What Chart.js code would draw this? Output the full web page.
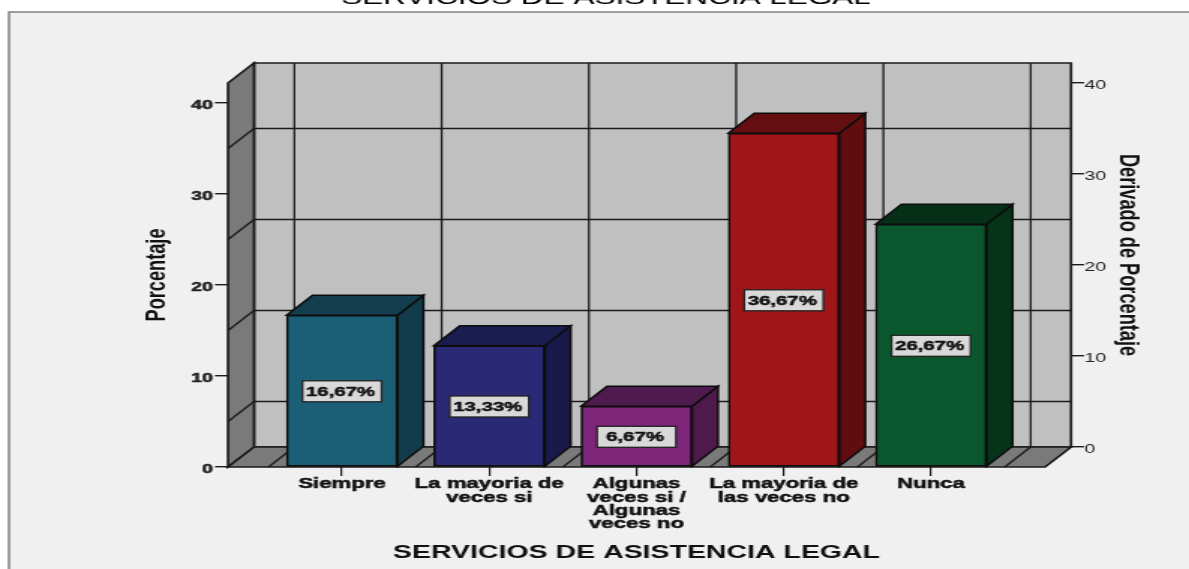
<!DOCTYPE html>
<html lang="es">
<head>
    <meta charset="UTF-8">
    <title>Servicios de asistencia legal</title>
    <script src="https://cdn.jsdelivr.net/npm/chart.js"></script>
    <style>
        html, body {
            margin: 0;
            background: #fff;
            overflow: hidden;
        }
        /* the original is a picture stretched sideways, so the canvas is too */
        #chart {
            display: block;
            margin-top: -12px;
            transform-origin: 0 0;
            transform: scaleX(1.4994);
        }
    </style>
</head>
<body>
    <canvas id="chart" width="793" height="581"></canvas>

    <script>
        const categories = [
            ['Siempre'],
            ['La mayoria de', 'veces si'],
            ['Algunas', 'veces si /', 'Algunas', 'veces no'],
            ['La mayoria de', 'las veces no'],
            ['Nunca']
        ];
        const porcentaje = [16.67, 13.33, 6.67, 36.67, 26.67];
        const barColors = ['#1b5f77', '#292975', '#7d2578', '#a01518', '#0b572d'];
        const sideColors = ['#123c4b', '#191a4b', '#4e1a4c', '#610d0f', '#063419'];
        const topColors = ['#123e4d', '#1b1c50', '#4f1a4d', '#640e10', '#062f18'];
        const axisTicks = [0, 10, 20, 30, 40];
        const wallLines = [5, 15, 25, 35];

        const K = 1189 / 793;
        const DEPTH_X = 26 / K;
        const LINE = '#1a1a1a';
        const FONT = '"Liberation Sans", Arial, sans-serif';

        function poly(ctx, pts, fill, stroke, width) {
            ctx.beginPath();
            pts.forEach((p, i) => i ? ctx.lineTo(p[0], p[1]) : ctx.moveTo(p[0], p[1]));
            ctx.closePath();
            if (fill) {
                ctx.fillStyle = fill;
                ctx.fill();
            }
            if (stroke) {
                ctx.strokeStyle = stroke;
                ctx.lineWidth = width;
                ctx.stroke();
            }
        }

        function line(ctx, x1, y1, x2, y2) {
            ctx.beginPath();
            ctx.moveTo(x1, y1);
            ctx.lineTo(x2, y2);
            ctx.stroke();
        }

        // 3D box behind the bars: panel, back wall, left wall, floor
        const walls = {
            id: 'walls',
            afterLayout(chart) {
                // front plane and back plane are centred differently, titles follow them
                chart.scales.y.top += 20;
                chart.scales.y1.bottom -= 20;
                chart.scales.x.right -= DEPTH_X;
                chart.titleBlock.left += 23 / K;
            },
            beforeDraw(chart) {
                const ctx = chart.ctx;
                const { x, y, y1 } = chart.scales;
                const area = chart.chartArea;
                const backLeft = area.left + DEPTH_X;
                const frontRight = area.right - DEPTH_X;
                const backFloor = y1.getPixelForValue(0);
                const frontFloor = y.getPixelForValue(0);
                const frontTop = area.top + (frontFloor - backFloor);

                ctx.save();
                ctx.fillStyle = '#fff';
                ctx.fillRect(0, 0, chart.width, chart.height);
                poly(ctx, [[9 / K, 24], [chart.width + 5, 24], [chart.width + 5, chart.height + 5], [9 / K, chart.height + 5]],
                    '#f0f0f0', '#808080', 1.5);

                poly(ctx, [[backLeft, area.top], [area.right, area.top], [area.right, backFloor], [backLeft, backFloor]],
                    '#c0c0c0', LINE, 1.7);
                poly(ctx, [[area.left, frontFloor], [backLeft, backFloor], [backLeft, area.top], [area.left, frontTop]],
                    '#7a7a7a', LINE, 1.7);
                poly(ctx, [[area.left, frontFloor], [frontRight, frontFloor], [area.right, backFloor], [backLeft, backFloor]],
                    '#7a7a7a', LINE, 1.7);

                ctx.strokeStyle = LINE;
                ctx.lineWidth = 1.3;
                wallLines.forEach(v => {
                    line(ctx, area.right, y1.getPixelForValue(v), backLeft, y1.getPixelForValue(v));
                    line(ctx, backLeft, y1.getPixelForValue(v), area.left, y.getPixelForValue(v));
                });
                for (let i = 0; i <= categories.length; i++) {
                    const fx = x.getPixelForValue(i - 0.5);
                    line(ctx, fx + DEPTH_X, area.top, fx + DEPTH_X, backFloor);
                    line(ctx, fx + DEPTH_X, backFloor, fx, frontFloor);
                }
                ctx.restore();
            },
            // side and top of every bar, taken from the bar element itself
            beforeDatasetsDraw(chart) {
                const ctx = chart.ctx;
                const { y, y1 } = chart.scales;
                const dy = y.getPixelForValue(0) - y1.getPixelForValue(0);
                ctx.save();
                chart.getDatasetMeta(0).data.forEach((bar, i) => {
                    const l = bar.x - bar.width / 2;
                    const r = bar.x + bar.width / 2;
                    poly(ctx, [[r, bar.y], [r + DEPTH_X, bar.y - dy], [r + DEPTH_X, bar.base - dy], [r, bar.base]],
                        sideColors[i], '#0d0d0d', 1.5);
                    poly(ctx, [[l, bar.y], [l + DEPTH_X, bar.y - dy], [r + DEPTH_X, bar.y - dy], [r, bar.y]],
                        topColors[i], '#0d0d0d', 1.5);
                });
                ctx.restore();
            },
            // boxed value labels in the middle of the front faces
            afterDatasetsDraw(chart) {
                const ctx = chart.ctx;
                ctx.save();
                chart.getDatasetMeta(0).data.forEach((bar, i) => {
                    const cy = (bar.y + bar.base) / 2 + 0.5;
                    const text = porcentaje[i].toFixed(2).replace('.', ',') + '%';
                    const w = 79 / K;
                    const h = 21;
                    ctx.fillStyle = '#d9d9d9';
                    ctx.strokeStyle = '#222';
                    ctx.lineWidth = 1.3;
                    ctx.fillRect(bar.x - w / 2, cy - h / 2, w, h);
                    ctx.strokeRect(bar.x - w / 2, cy - h / 2, w, h);
                    ctx.fillStyle = '#111';
                    ctx.strokeStyle = '#111';
                    ctx.lineWidth = 0.5;
                    ctx.font = 'bold 13.6px ' + FONT;
                    ctx.textAlign = 'center';
                    ctx.textBaseline = 'middle';
                    ctx.fillText(text, bar.x - 1, cy + 0.5);
                    ctx.strokeText(text, bar.x - 1, cy + 0.5);
                });
                ctx.restore();
            }
        };

        const valueAxis = (position, weight, stroke, pad, titleText, titlePad, width, min, max) => ({
            type: 'linear',
            position: position,
            min: min,
            max: max,
            afterBuildTicks: scale => { scale.ticks = axisTicks.map(v => ({ value: v })); },
            afterFit: scale => { scale.width = width; },
            border: { display: false },
            grid: { drawOnChartArea: false, drawTicks: true, tickLength: 13 / K, color: LINE, lineWidth: 1.4 },
            ticks: {
                color: '#222',
                padding: pad,
                labelOffset: 2,
                textStrokeColor: '#222',
                textStrokeWidth: stroke,
                font: { family: FONT, size: 13, weight: weight }
            },
            title: {
                display: true,
                text: titleText,
                color: '#111',
                padding: { top: titlePad, bottom: 0 },
                font: { family: FONT, size: 18.2, weight: 'bold' }
            }
        });

        new Chart(document.getElementById('chart'), {
            type: 'bar',
            data: {
                datasets: [{
                    data: porcentaje.map((v, i) => ({ x: i, y: v })),
                    backgroundColor: barColors,
                    borderColor: '#0d0d0d',
                    borderWidth: 1.6,
                    borderSkipped: false,
                    barThickness: 111 / K,
                    clip: false,
                    yAxisID: 'y'
                }]
            },
            plugins: [walls],
            options: {
                responsive: false,
                animation: false,
                devicePixelRatio: 1,
                plugins: {
                    legend: { display: false },
                    tooltip: { enabled: false },
                    title: {
                        display: true,
                        text: 'SERVICIOS DE ASISTENCIA LEGAL',
                        color: '#000',
                        padding: { top: 0, bottom: 54 },
                        font: { family: FONT, size: 21, weight: 'normal', lineHeight: 1 }
                    }
                },
                scales: {
                    x: {
                        type: 'linear',
                        offset: false,
                        min: -114 / 147.25,
                        max: 729 / 147.25,
                        afterBuildTicks: scale => { scale.ticks = categories.map((c, i) => ({ value: i })); },
                        afterFit: scale => { scale.height = 102; },
                        border: { display: false },
                        grid: { offset: false, drawOnChartArea: false, drawTicks: true, tickLength: 9, color: LINE, lineWidth: 1.2 },
                        ticks: {
                            autoSkip: false,
                            maxRotation: 0,
                            padding: 1.5,
                            color: '#111',
                            textStrokeColor: '#111',
                            textStrokeWidth: 0.5,
                            font: { family: FONT, size: 14.8, weight: 'bold', lineHeight: 0.9 },
                            callback: value => categories[value]
                        },
                        title: {
                            display: true,
                            text: 'SERVICIOS DE ASISTENCIA LEGAL',
                            color: '#111',
                            padding: { top: 0, bottom: 5 },
                            font: { family: FONT, size: 19, weight: 'bold' }
                        }
                    },
                    y: valueAxis('left', 'bold', 0.5, 1.5, 'Porcentaje', 94.5, 228 / K, 0, 404 / 9.1),
                    y1: valueAxis('right', 'normal', 0, 0.2, 'Derivado de Porcentaje', 30, 793 - 1071 / K, -20 / 9.1, 384 / 9.1)
                }
            }
        });
    </script>
</body>
</html>
